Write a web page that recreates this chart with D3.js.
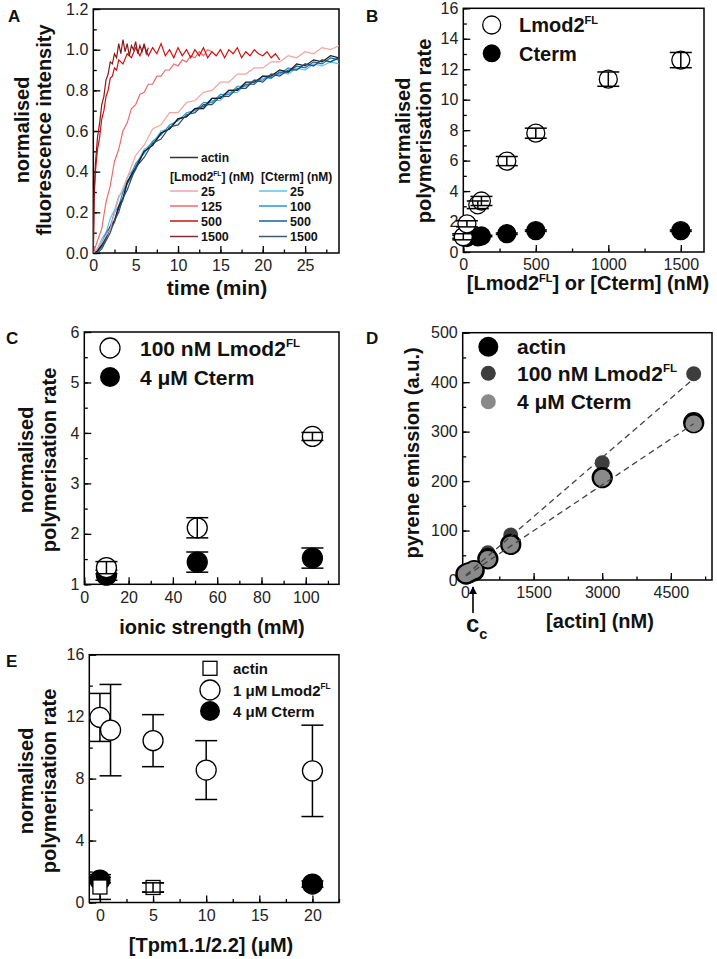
<!DOCTYPE html>
<html><head><meta charset="utf-8">
<script src="https://cdn.jsdelivr.net/npm/d3@7"></script>
<style>body{margin:0;background:#fff} svg text{font-family:"Liberation Sans",Arial,sans-serif}</style>
</head><body>
<script>
// ---------- Panel A : kinetic traces ----------
const tFast1500 = [0,0.1,0.25,0.5,0.75,1,1.25,1.5,1.75,2,2.25,2.5,2.75,3,3.25,3.5,3.75,4,4.25,4.5,4.75,5,5.25,5.5,5.75,6,6.25,6.5];
const lmod1500  = [0,0.3,0.44,0.57,0.64,0.73,0.77,0.85,0.88,0.94,0.93,0.98,0.96,1.03,0.98,1.05,0.99,1.03,0.97,1.02,1.0,1.04,0.98,1.02,0.99,1.03,0.98,1.01];
const tFast500  = [0,0.1,0.25,0.5,0.75,1,1.25,1.5,1.75,2,2.25,2.5,2.75,3,3.5,4,4.5,5,5.5,6,6.5,7,7.5,8,8.5,9,9.5,10,10.5,11,11.5,12,12.5,13,13.5,14,14.5,15,15.5,16,16.5,17,17.5,18,18.5,19,19.5,20,20.5,21,21.5,22];
const lmod500   = [0,0.27,0.4,0.51,0.57,0.66,0.7,0.77,0.8,0.86,0.87,0.91,0.9,0.95,0.93,0.98,0.96,1.01,0.97,1.02,0.97,1.01,0.98,1.03,0.97,1.0,0.96,1.01,0.97,1.0,0.96,1.0,0.97,1.01,0.96,0.99,0.97,1.0,0.96,1.0,0.98,1.01,0.96,0.99,0.97,1.0,0.98,0.97,0.99,0.96,0.98,0.95];
const tMid125   = [0,0.5,1,1.5,2,2.5,3,3.5,4,4.5,5,5.5,6,6.5,7,7.5,8,8.5,9,9.5,10,10.5,11,11.5,12,12.5,13,13.5,14];
const lmod125   = [0,0.06,0.12,0.25,0.33,0.45,0.51,0.6,0.64,0.71,0.73,0.78,0.79,0.83,0.83,0.87,0.87,0.9,0.9,0.93,0.92,0.95,0.94,0.97,0.96,0.99,0.97,1.0,0.99];
const tSlow     = [0,1,2,3,4,5,6,7,8,9,10,11,12,13,14,15,16,17,18,19,20,21,22,23,24,25,26,27,28,29];
const lmod25    = [0,0.05,0.12,0.27,0.37,0.48,0.53,0.61,0.63,0.69,0.69,0.74,0.75,0.79,0.8,0.84,0.84,0.88,0.88,0.91,0.91,0.94,0.94,0.97,0.96,0.99,0.98,1.01,1.0,1.02];
const tBase     = [0,0.5,1,1.5,2,2.5,3,3.5,4,5,6,7,8,9,10,11,12,13,14,15,16,17,18,19,20,21,22,23,24,25,26,27,28,29];
const actinOnly = [0,0.01,0.04,0.08,0.13,0.16,0.23,0.27,0.35,0.42,0.5,0.53,0.59,0.61,0.66,0.67,0.71,0.71,0.76,0.76,0.8,0.8,0.84,0.84,0.87,0.87,0.9,0.89,0.93,0.92,0.95,0.94,0.97,0.96];
const cterm25   = [0,0.02,0.07,0.1,0.17,0.21,0.28,0.3,0.37,0.43,0.51,0.54,0.6,0.61,0.66,0.67,0.71,0.71,0.75,0.75,0.79,0.79,0.83,0.83,0.86,0.86,0.89,0.88,0.91,0.9,0.93,0.92,0.94,0.93];
const cterm100  = [0,0.01,0.05,0.1,0.13,0.2,0.23,0.3,0.34,0.44,0.49,0.55,0.58,0.63,0.65,0.69,0.7,0.74,0.74,0.78,0.78,0.82,0.82,0.85,0.85,0.88,0.88,0.91,0.9,0.93,0.92,0.95,0.94,0.96];
const cterm500  = [0,0.01,0.03,0.07,0.12,0.15,0.22,0.26,0.34,0.41,0.5,0.53,0.59,0.61,0.66,0.67,0.71,0.72,0.76,0.76,0.8,0.8,0.83,0.83,0.87,0.86,0.89,0.89,0.92,0.91,0.94,0.93,0.96,0.95];
const cterm1500 = [0,0.0,0.02,0.06,0.1,0.16,0.2,0.27,0.31,0.42,0.47,0.54,0.56,0.62,0.63,0.68,0.69,0.73,0.73,0.77,0.77,0.81,0.81,0.85,0.84,0.88,0.87,0.9,0.9,0.93,0.92,0.95,0.94,0.96];

// ---------- Panel B ----------
const bLmodConc = [0, 25, 100, 125, 300, 500, 1000, 1500];
const bLmodRate = [1.0, 1.85, 3.1, 3.35, 5.97, 7.8, 11.35, 12.6];
const bLmodErr  = [0.2, 0.2, 0.25, 0.3, 0.3, 0.33, 0.47, 0.5];
const bCtermConc = [0, 25, 100, 125, 300, 500, 1500];
const bCtermRate = [1.0, 0.95, 1.0, 1.05, 1.2, 1.4, 1.4];
const bCtermErr  = [0.1, 0.05, 0.05, 0.05, 0.05, 0.05, 0.05];

// ---------- Panel C ----------
const cIonic      = [10, 51, 103];
const cLmodRate   = [1.33, 2.12, 3.93];
const cLmodErr    = [0.12, 0.2, 0.08];
const cCtermRate  = [1.18, 1.44, 1.52];
const cCtermErr   = [0.1, 0.2, 0.2];

// ---------- Panel D ----------
const dActinConc = [20, 50, 100, 200, 500, 1000, 3000, 5000];
const dActin     = [12, 13, 15, 19, 43, 72, 207, 318];
const dCterm     = [12, 14, 16, 20, 42, 71, 206, 316];
const dLmod      = [15, 17, 19, 24, 55, 91, 237, 417];
const dFitLmod   = [[20, 10], [5000, 407]];
const dFitActin  = [[20, 8], [5000, 316]];
const dCc        = 175;

// ---------- Panel E ----------
const eActinTpm = [0, 5];
const eActin    = [1.0, 0.97];
const eActinErr = [0.8, 0.3];
const eLmodTpm  = [0, 1, 5, 10, 20];
const eLmod     = [11.95, 11.13, 10.45, 8.55, 8.5];
const eLmodErr  = [1.55, 2.95, 1.68, 1.9, 2.95];
const eCtermTpm = [0, 20];
const eCterm    = [1.45, 1.19];
const eCtermErr = [0.18, 0.2];

// ---------- drawing ----------
const FONT = '"Liberation Sans", Arial, sans-serif';
const svg = d3.select("body").append("svg").attr("width", 717).attr("height", 959);

function panel(o) {
  const x = d3.scaleLinear().domain(o.xdom).range([o.left, o.right]);
  const y = d3.scaleLinear().domain(o.ydom).range([o.bottom, o.top]);
  const g = svg.append("g");
  const ax = g.append("g").attr("transform", `translate(0,${o.bottom})`)
    .call(d3.axisBottom(x).tickValues(o.xminor).tickSize(-3.5).tickFormat(""));
  const ax2 = g.append("g").attr("transform", `translate(0,${o.bottom})`)
    .call(d3.axisBottom(x).tickValues(o.xmajor).tickSize(-7).tickPadding(7).tickFormat(o.xfmt || d3.format("d")));
  const ay = g.append("g").attr("transform", `translate(${o.left},0)`)
    .call(d3.axisLeft(y).tickValues(o.yminor).tickSize(-3.5).tickFormat(""));
  const ay2 = g.append("g").attr("transform", `translate(${o.left},0)`)
    .call(d3.axisLeft(y).tickValues(o.ymajor).tickSize(-7).tickPadding(5).tickFormat(o.yfmt || d3.format("d")));
  [ax, ax2, ay, ay2].forEach(a => {
    a.select(".domain").remove();
    a.attr("font-family", FONT).attr("font-size", 16);
    a.selectAll("line").attr("stroke", "#000").attr("stroke-width", 1.3);
    a.selectAll("text").attr("fill", "#222");
  });
  g.append("rect").attr("x", o.left).attr("y", o.top)
    .attr("width", o.right - o.left).attr("height", o.bottom - o.top)
    .attr("fill", "none").attr("stroke", "#000").attr("stroke-width", 1.5);
  return {x, y, g};
}

function rich(g, x, y, parts, fs, anchor, rotate) {
  const t = g.append("text").attr("font-family", FONT).attr("font-weight", "bold")
    .attr("font-size", fs).attr("text-anchor", anchor || "start").attr("fill", "#111");
  if (rotate) t.attr("transform", `translate(${x},${y}) rotate(-90)`);
  else t.attr("x", x).attr("y", y);
  let up = false;
  parts.forEach(p => {
    const sp = t.append("tspan").text(p.t);
    if (p.sup) { sp.attr("font-size", fs * 0.55).attr("dy", -fs * 0.42); up = true; }
    else if (p.sub) { sp.attr("font-size", fs * 0.6).attr("dy", fs * 0.3); }
    else if (up) { sp.attr("dy", fs * 0.42); up = false; }
  });
  return t;
}

function errbars(g, x, y, xs, ys, es, cap) {
  xs.forEach((v, i) => {
    const px = x(v), lo = y(ys[i] - es[i]), hi = y(ys[i] + es[i]);
    g.append("line").attr("x1", px).attr("x2", px).attr("y1", lo).attr("y2", hi).attr("stroke", "#000").attr("stroke-width", 1.5);
    g.append("line").attr("x1", px - cap).attr("x2", px + cap).attr("y1", lo).attr("y2", lo).attr("stroke", "#000").attr("stroke-width", 1.5);
    g.append("line").attr("x1", px - cap).attr("x2", px + cap).attr("y1", hi).attr("y2", hi).attr("stroke", "#000").attr("stroke-width", 1.5);
  });
}
function circles(g, x, y, xs, ys, r, fill, stroke) {
  g.selectAll(null).data(xs).enter().append("circle")
    .attr("cx", d => x(d)).attr("cy", (d, i) => y(ys[i])).attr("r", r)
    .attr("fill", fill).attr("stroke", stroke).attr("stroke-width", 1.3);
}
function label(t, x, y) {
  svg.append("text").attr("x", x).attr("y", y).attr("font-family", FONT).attr("font-weight", "bold")
    .attr("font-size", 17).attr("fill", "#111").text(t);
}
const rng = (a, b, s) => d3.range(a, b + s / 1000, s);

// ===== Panel A =====
{
  const P = panel({left: 93.3, right: 339, top: 9, bottom: 253, xdom: [0, 29], ydom: [0, 1.2],
    xmajor: rng(0, 25, 5), xminor: rng(0, 27.5, 2.5), ymajor: rng(0, 1.2, 0.2), yminor: rng(0, 1.2, 0.1),
    yfmt: d3.format(".1f")});
  const {x, y, g} = P;
  svg.append("clipPath").attr("id", "clipA").append("rect").attr("x", 93.3).attr("y", 9).attr("width", 245.7).attr("height", 244);
  const lg = g.append("g").attr("clip-path", "url(#clipA)");
  const line = d3.line().x(d => x(d[0])).y(d => y(d[1]));
  const series = [
    [tBase, cterm25, "#5cc0ef"], [tBase, cterm100, "#2b92d6"], [tBase, cterm500, "#14609f"],
    [tBase, actinOnly, "#1a1a1a"], [tBase, cterm1500, "#2c4a66"],
    [tSlow, lmod25, "#f5a3a3"], [tMid125, lmod125, "#f06a6a"],
    [tFast500, lmod500, "#d01010"], [tFast1500, lmod1500, "#861818"]
  ];
  series.forEach(([t, v, c]) => {
    lg.append("path").datum(t.map((tt, i) => [tt, v[i]])).attr("d", line)
      .attr("fill", "none").attr("stroke", c).attr("stroke-width", 1.2);
  });
  // legend
  const L = g.append("g");
  const lgLine = (x1, yy, c) => L.append("line").attr("x1", x1).attr("x2", x1 + 28).attr("y1", yy).attr("y2", yy).attr("stroke", c).attr("stroke-width", 1.5);
  lgLine(170, 157.5, "#333");
  rich(L, 201, 162, [{t: "actin"}], 12);
  rich(L, 170, 181, [{t: "[Lmod2"}, {t: "FL", sup: true}, {t: "] (nM)"}], 12);
  rich(L, 261, 181, [{t: "[Cterm] (nM)"}], 12);
  const rowsY = [191, 206, 221, 236.5];
  const lmodLabels = ["25", "125", "500", "1500"];
  const ctermLabels = ["25", "100", "500", "1500"];
  const lmodCols = ["#f5a3a3", "#f06a6a", "#d01010", "#8a2a2a"];
  const ctermCols = ["#5cc0ef", "#2b92d6", "#14609f", "#3b5878"];
  rowsY.forEach((yy, i) => {
    lgLine(170, yy, lmodCols[i]); rich(L, 201, yy + 4.5, [{t: lmodLabels[i]}], 12.5);
    lgLine(259, yy, ctermCols[i]); rich(L, 290, yy + 4.5, [{t: ctermLabels[i]}], 12.5);
  });
  rich(svg, 217, 295, [{t: "time (min)"}], 21, "middle");
  rich(svg, 28.5, 130, [{t: "normalised"}], 20, "middle", true);
  rich(svg, 51, 130, [{t: "fluorescence intensity"}], 20, "middle", true);
  label("A", 8, 22);
}

// ===== Panel B =====
{
  const {x, y, g} = panel({left: 463.3, right: 704, top: 8.3, bottom: 252, xdom: [0, 1660], ydom: [0, 16],
    xmajor: [0, 500, 1000, 1500], xminor: rng(0, 1500, 250), ymajor: rng(0, 16, 2), yminor: rng(0, 16, 1)});
  circles(g, x, y, bCtermConc, bCtermRate, 9, "#000", "#000");
  errbars(g, x, y, bCtermConc, bCtermRate, bCtermErr, 11);
  circles(g, x, y, bLmodConc, bLmodRate, 9, "#fff", "#000");
  errbars(g, x, y, bLmodConc, bLmodRate, bLmodErr, 11);
  g.append("circle").attr("cx", 491.7).attr("cy", 25).attr("r", 9).attr("fill", "#fff").attr("stroke", "#000").attr("stroke-width", 1.3);
  g.append("circle").attr("cx", 491.7).attr("cy", 53.3).attr("r", 9).attr("fill", "#000");
  rich(g, 519, 32, [{t: "Lmod2"}, {t: "FL", sup: true}], 20);
  rich(g, 519, 60.5, [{t: "Cterm"}], 20);
  rich(svg, 588, 290, [{t: "[Lmod2"}, {t: "FL", sup: true}, {t: "] or [Cterm] (nM)"}], 20, "middle");
  rich(svg, 410, 131, [{t: "normalised"}], 20, "middle", true);
  rich(svg, 431, 131, [{t: "polymerisation rate"}], 20, "middle", true);
  label("B", 366, 22);
}

// ===== Panel C =====
{
  const {x, y, g} = panel({left: 84.3, right: 339, top: 332, bottom: 584.3, xdom: [0, 115], ydom: [1, 6],
    xmajor: rng(0, 100, 20), xminor: rng(0, 110, 10), ymajor: rng(1, 6, 1), yminor: rng(1, 6, 0.5)});
  circles(g, x, y, cIonic, cCtermRate, 10, "#000", "#000");
  errbars(g, x, y, cIonic, cCtermRate, cCtermErr, 11);
  circles(g, x, y, cIonic, cLmodRate, 10, "#fff", "#000");
  errbars(g, x, y, cIonic, cLmodRate, cLmodErr, 11);
  g.append("circle").attr("cx", 110).attr("cy", 348).attr("r", 10).attr("fill", "#fff").attr("stroke", "#000").attr("stroke-width", 1.3);
  g.append("circle").attr("cx", 110).attr("cy", 377).attr("r", 10).attr("fill", "#000");
  rich(g, 140, 355.5, [{t: "100 nM Lmod2"}, {t: "FL", sup: true}], 21);
  rich(g, 140, 384.5, [{t: "4 \u03bcM Cterm"}], 21);
  rich(svg, 212, 634, [{t: "ionic strength (mM)"}], 20, "middle");
  rich(svg, 33, 460, [{t: "normalised"}], 20, "middle", true);
  rich(svg, 56, 460, [{t: "polymerisation rate"}], 20, "middle", true);
  label("C", 6, 344);
}

// ===== Panel D =====
{
  const {x, y, g} = panel({left: 462.7, right: 712, top: 332.7, bottom: 580, xdom: [-50, 5400], ydom: [0, 500],
    xmajor: [0, 1500, 3000, 4500], xminor: rng(0, 5250, 750), ymajor: rng(0, 500, 100), yminor: rng(0, 500, 50)});
  const dl = d3.line().x(d => x(d[0])).y(d => y(d[1]));
  circles(g, x, y, dActinConc, dLmod, 7.5, "#3d3d3d", "none");
  circles(g, x, y, dActinConc, dActin, 10, "#000", "#000");
  circles(g, x, y, dActinConc, dCterm, 8.3, "#8a8a8a", "none");
  [dFitLmod, dFitActin].forEach(f => g.append("path").attr("d", dl(f)).attr("fill", "none")
    .attr("stroke", "#444").attr("stroke-width", 1.3).attr("stroke-dasharray", "6,4"));
  g.append("circle").attr("cx", 488.3).attr("cy", 346.7).attr("r", 10).attr("fill", "#000");
  g.append("circle").attr("cx", 488.3).attr("cy", 373.3).attr("r", 7.5).attr("fill", "#3d3d3d");
  g.append("circle").attr("cx", 488.3).attr("cy", 401.7).attr("r", 7.5).attr("fill", "#8a8a8a");
  rich(g, 517, 354, [{t: "actin"}], 21);
  rich(g, 517, 381, [{t: "100 nM Lmod2"}, {t: "FL", sup: true}], 21);
  rich(g, 517, 409, [{t: "4 \u03bcM Cterm"}], 21);
  // c_c arrow
  const cx = x(dCc);
  svg.append("defs").append("marker").attr("id", "arr").attr("viewBox", "0 0 10 10").attr("refX", 9).attr("refY", 5)
    .attr("markerWidth", 5).attr("markerHeight", 6).attr("orient", "auto")
    .append("path").attr("d", "M0,0 L10,5 L0,10 z").attr("fill", "#000");
  svg.append("line").attr("x1", cx).attr("x2", cx).attr("y1", 613).attr("y2", 587).attr("stroke", "#000")
    .attr("stroke-width", 1.6).attr("marker-end", "url(#arr)");
  rich(svg, cx - 7, 632, [{t: "c"}, {t: "c", sub: true}], 24);
  rich(svg, 600, 628, [{t: "[actin] (nM)"}], 20, "middle");
  rich(svg, 419, 453, [{t: "pyrene emission (a.u.)"}], 20, "middle", true);
  label("D", 366, 344);
}

// ===== Panel E =====
{
  const {x, y, g} = panel({left: 89.3, right: 339, top: 654.7, bottom: 902.5, xdom: [-1, 22.5], ydom: [0, 16],
    xmajor: rng(0, 20, 5), xminor: rng(0, 22.5, 2.5), ymajor: rng(0, 16, 4), yminor: rng(0, 16, 2)});
  errbars(g, x, y, eLmodTpm, eLmod, eLmodErr, 11);
  errbars(g, x, y, eActinTpm, eActin, eActinErr, 11);
  errbars(g, x, y, eCtermTpm, eCterm, eCtermErr, 11);
  circles(g, x, y, eCtermTpm, eCterm, 10, "#000", "#000");
  g.selectAll(null).data(eActinTpm).enter().append("rect")
    .attr("x", d => x(d) - 7).attr("y", (d, i) => y(eActin[i]) - 7).attr("width", 14).attr("height", 14)
    .attr("fill", "#fff").attr("stroke", "#000").attr("stroke-width", 1.3);
  errbars(g, x, y, [eActinTpm[1]], [eActin[1]], [eActinErr[1]], 11);
  circles(g, x, y, eLmodTpm, eLmod, 10, "#fff", "#000");
  g.append("rect").attr("x", 203).attr("y", 661.3).attr("width", 14).attr("height", 14).attr("fill", "#fff").attr("stroke", "#000").attr("stroke-width", 1.3);
  g.append("circle").attr("cx", 210).attr("cy", 690).attr("r", 10).attr("fill", "#fff").attr("stroke", "#000").attr("stroke-width", 1.3);
  g.append("circle").attr("cx", 210).attr("cy", 711).attr("r", 10).attr("fill", "#000");
  rich(g, 233, 673.5, [{t: "actin"}], 15);
  rich(g, 233, 695.5, [{t: "1 \u03bcM Lmod2"}, {t: "FL", sup: true}], 15);
  rich(g, 233, 716.5, [{t: "4 \u03bcM Cterm"}], 15);
  rich(svg, 211, 952, [{t: "[Tpm1.1/2.2] ("}, {t: "\u03bcM)"}], 20, "middle");
  rich(svg, 33, 781, [{t: "normalised"}], 20, "middle", true);
  rich(svg, 56, 781, [{t: "polymerisation rate"}], 20, "middle", true);
  label("E", 6, 667);
}
</script>
</body></html>
